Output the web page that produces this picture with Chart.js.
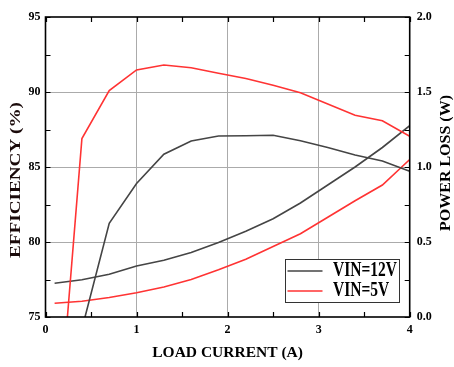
<!DOCTYPE html>
<html>
<head>
<meta charset="utf-8">
<script src="https://cdn.jsdelivr.net/npm/chart.js@4.4.1/dist/chart.umd.min.js"></script>
<style>
  html, body { margin: 0; padding: 0; background: #fff; }
  #wrap { width: 454px; height: 367px; }
</style>
</head>
<body>
<div id="wrap"><canvas id="c" width="454" height="367"></canvas></div>
<script>
// Load current steps (A)
const loadCurrent = [0.1, 0.4, 0.7, 1.0, 1.3, 1.6, 1.9, 2.2, 2.5, 2.8, 3.1, 3.4, 3.7, 4.0];

// Efficiency (%)
const efficiency12V = [null, 74.2, 81.25, 83.9, 85.85, 86.73, 87.07, 87.08, 87.12, 86.75, 86.3, 85.8, 85.4, 84.72];
const efficiency5V  = [64.5, 86.9, 90.1, 91.47, 91.8, 91.62, 91.25, 90.9, 90.45, 89.95, 89.2, 88.45, 88.08, 87.05];

// Power loss (W)
const powerLoss12V = [0.225, 0.248, 0.285, 0.34, 0.378, 0.43, 0.497, 0.572, 0.655, 0.76, 0.88, 1.0, 1.13, 1.275];
const powerLoss5V  = [0.092, 0.105, 0.13, 0.162, 0.2, 0.25, 0.315, 0.385, 0.47, 0.555, 0.665, 0.775, 0.88, 1.05];

const seriesLabels = ['VIN=12V', 'VIN=5V'];
const seriesColors = ['#454545', '#ff3333'];

const xTitle = 'LOAD CURRENT (A)';
const yTitle = 'EFFICIENCY (%)';
const y1Title = 'POWER LOSS (W)';

const SERIF = '"Liberation Serif", "Times New Roman", serif';

function pts(ys) {
  return loadCurrent.map((x, i) => ({ x: x, y: ys[i] }));
}

function makeSet(label, ys, color, axis) {
  return {
    label: label,
    data: pts(ys),
    yAxisID: axis,
    borderColor: color,
    backgroundColor: color,
    borderWidth: 1.6,
    pointRadius: 0,
    tension: 0,
    fill: false,
    clip: 0
  };
}

// Frame, inward tick marks, axis titles and the inset legend
const decorations = {
  id: 'decorations',
  afterDraw(chart) {
    const ctx = chart.ctx;
    const a = chart.chartArea;
    const sx = chart.scales.x, sy = chart.scales.y, sy1 = chart.scales.y1;
    const TL = 5;

    ctx.save();
    ctx.strokeStyle = '#000';
    ctx.lineWidth = 1.2;
    ctx.beginPath();
    sx.ticks.forEach(t => {
      const p = Math.round(sx.getPixelForValue(t.value)) + 0.5;
      ctx.moveTo(p, a.bottom); ctx.lineTo(p, a.bottom - TL);
      ctx.moveTo(p, a.top); ctx.lineTo(p, a.top + TL);
    });
    sy.ticks.forEach(t => {
      const p = Math.round(sy.getPixelForValue(t.value)) + 0.5;
      ctx.moveTo(a.left, p); ctx.lineTo(a.left + TL, p);
    });
    sy1.ticks.forEach(t => {
      const p = Math.round(sy1.getPixelForValue(t.value)) + 0.5;
      ctx.moveTo(a.right, p); ctx.lineTo(a.right - TL, p);
    });
    ctx.stroke();

    // plot frame
    ctx.lineWidth = 1.6;
    ctx.strokeRect(a.left, a.top, a.right - a.left, a.bottom - a.top);

    // axis titles
    ctx.fillStyle = '#000';
    ctx.textAlign = 'center';
    ctx.textBaseline = 'middle';
    ctx.font = 'bold 15.5px ' + SERIF;
    ctx.fillText(xTitle, (a.left + a.right) / 2, 353);

    function vertical(text, cx, cy, size, len, color) {
      ctx.save();
      ctx.font = 'bold ' + size + 'px ' + SERIF;
      ctx.fillStyle = color;
      const w = ctx.measureText(text).width;
      ctx.translate(cx, cy);
      ctx.rotate(-Math.PI / 2);
      ctx.scale(len / w, 1);
      ctx.fillText(text, 0, 0);
      ctx.restore();
    }
    vertical(yTitle, 16.5, 180, 15, 156, '#1a0a0a');
    vertical(y1Title, 446, 163, 14, 136, '#000');

    // legend box
    const bx = 285, by = 259, bw = 114, bh = 43;
    ctx.fillStyle = '#fff';
    ctx.fillRect(bx, by, bw, bh);
    ctx.strokeStyle = '#333';
    ctx.lineWidth = 1;
    ctx.strokeRect(bx + 0.5, by + 0.5, bw, bh);
    seriesLabels.forEach((lab, i) => {
      const yy = 271 + i * 20;
      ctx.strokeStyle = seriesColors[i];
      ctx.lineWidth = 1.6;
      ctx.beginPath();
      ctx.moveTo(287.5, yy); ctx.lineTo(322.5, yy);
      ctx.stroke();
      ctx.save();
      ctx.fillStyle = '#000';
      ctx.textAlign = 'left';
      ctx.textBaseline = 'middle';
      ctx.font = 'bold 15.5px ' + SERIF;
      ctx.translate(333, yy);
      ctx.scale(1, 1.3);
      ctx.fillText(lab, 0, 0);
      ctx.restore();
    });
    ctx.restore();
  }
};

const tickFont = { family: SERIF, size: 12, weight: 'bold' };

new Chart(document.getElementById('c'), {
  type: 'line',
  data: {
    datasets: [
      makeSet(seriesLabels[0] + ' efficiency', efficiency12V, seriesColors[0], 'y'),
      makeSet(seriesLabels[1] + ' efficiency', efficiency5V, seriesColors[1], 'y'),
      makeSet(seriesLabels[0] + ' power loss', powerLoss12V, seriesColors[0], 'y1'),
      makeSet(seriesLabels[1] + ' power loss', powerLoss5V, seriesColors[1], 'y1')
    ]
  },
  options: {
    responsive: false,
    animation: false,
    devicePixelRatio: 1,
    layout: { padding: { top: 17, left: 0, right: 0, bottom: 0 } },
    plugins: {
      legend: { display: false },
      tooltip: { enabled: false }
    },
    scales: {
      x: {
        type: 'linear',
        min: 0, max: 4,
        afterFit: s => { s.height = 50; },
        border: { display: false },
        grid: {
          drawTicks: false,
          lineWidth: 1,
          color: c => (c.tick && Number.isInteger(c.tick.value) && c.tick.value > 0 && c.tick.value < 4) ? '#ababab' : 'rgba(0,0,0,0)'
        },
        ticks: {
          stepSize: 0.5,
          autoSkip: false,
          maxRotation: 0,
          padding: 6,
          color: '#000',
          font: tickFont,
          callback: v => Number.isInteger(v) ? String(v) : ''
        }
      },
      y: {
        type: 'linear',
        position: 'left',
        min: 75, max: 95,
        afterFit: s => { s.width = 45.5; },
        border: { display: false },
        grid: {
          drawTicks: false,
          lineWidth: 1,
          color: c => (c.tick && c.tick.value % 5 === 0 && c.tick.value > 75 && c.tick.value < 95) ? '#ababab' : 'rgba(0,0,0,0)'
        },
        ticks: {
          stepSize: 2.5,
          autoSkip: false,
          padding: 5,
          color: '#000',
          font: tickFont,
          callback: v => (v % 5 === 0) ? String(v) : ''
        }
      },
      y1: {
        type: 'linear',
        position: 'right',
        min: 0, max: 2,
        afterFit: s => { s.width = 44.3; },
        border: { display: false },
        grid: { display: false, drawTicks: false },
        ticks: {
          stepSize: 0.25,
          autoSkip: false,
          padding: 7,
          color: '#000',
          font: tickFont,
          callback: v => (Math.abs(v * 2 - Math.round(v * 2)) < 1e-9) ? v.toFixed(1) : ''
        }
      }
    }
  },
  plugins: [decorations]
});
</script>
</body>
</html>
